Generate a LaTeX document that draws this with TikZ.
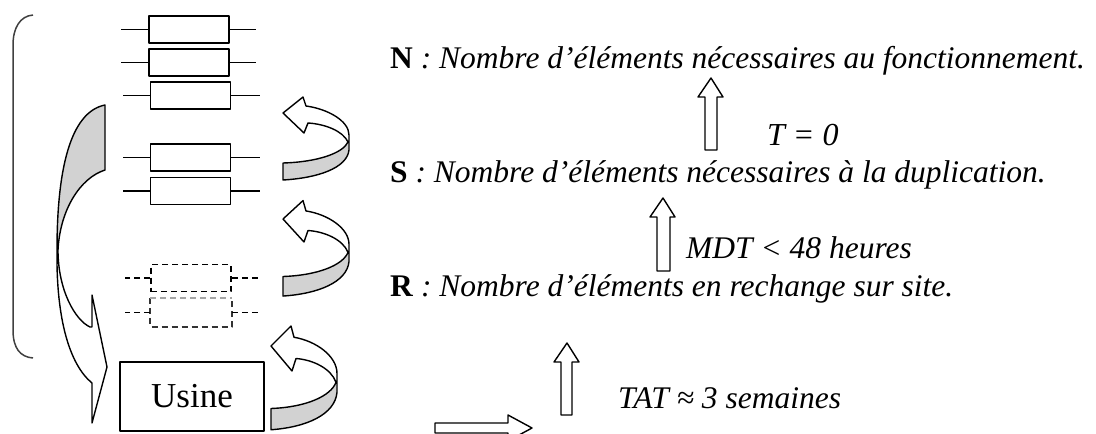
\documentclass[tikz,border=0pt]{standalone}
\usepackage{fontspec}
\setmainfont{Liberation Serif}
\begin{document}
\begin{tikzpicture}[x=1pt,y=-1pt,line join=round]
\tikzset{
 res/.style={draw,line width=1.6pt,minimum width=80pt,minimum height=27pt,inner sep=0pt},
 lead/.style={line width=1.5pt},
 dlead/.style={line width=1.5pt,dash pattern=on 6pt off 4pt},
 blk/.style={draw,line width=1.4pt,fill=white},
 rib/.style={draw,line width=1.4pt},
 lbl/.style={anchor=base west,inner sep=0pt,font=\fontsize{31.5}{36}\selectfont},
}
\newcommand{\uarrowpath}{%
  \fill[gray!35] (0,50) .. controls (35,49) and (60,40) .. (65,29) -- (66,37) .. controls (64,55) and (35,65) .. (0,67) -- cycle;
  \draw[rib] (0,0) -- (20,-16) -- (23,-7) .. controls (45,-4) and (66,8) .. (66,22) -- (66,37)
    .. controls (64,55) and (35,65) .. (0,67) -- (0,50)
    .. controls (35,49) and (60,40) .. (65,29)
    .. controls (60,18) and (42,11) .. (25,10) -- (21,20) -- cycle;}
\useasboundingbox (0,0) rectangle (1096,434);
\begin{scope}
\clip (0,0) rectangle (1096,434);
% bracket
\draw[line width=1.5pt,black!75] (33,15) .. controls (20,16) and (13,28) .. (13,45) -- (13,330) .. controls (13,348) and (20,357) .. (33,358);
% resistors
\node[res] (r1) at (189,29.5) {};
\node[res] (r2) at (189,62.5) {};
\node[res] (r3) at (190.5,95.5) {};
\node[res] (r4) at (190.5,157.5) {};
\node[res] (r5) at (190.5,191) {};
\draw[lead] (r1.west) -- ++(-27,0) (r1.east) -- ++(26,0);
\draw[lead] (r2.west) -- ++(-27,0) (r2.east) -- ++(26,0);
\foreach \r in {r3,r4,r5}{\draw[lead] (\r.west) -- ++(-27,0) (\r.east) -- ++(29,0);}
\node[res,dash pattern=on 6pt off 4pt] (d1) at (191,278) {};
\node[res,draw=none] (d2) at (191,312.5) {};
\draw[dlead,black!80] (d2.north west) -- (d2.south west) -- (d2.south east) -- (d2.north east);
\draw[dlead,gray!70] (d2.north west) -- (d2.north east);
\foreach \r in {d1,d2}{\draw[dlead] (\r.west) -- ++(-25,0) (\r.east) -- ++(28,0);}
% usine
\node[draw,line width=1.5pt,minimum width=144pt,minimum height=69pt,inner sep=0pt,font=\fontsize{35}{40}\selectfont] (U) at (192,396.5) {Usine};
% big curved arrow
\fill[gray!35] (105,105) .. controls (70,112) and (57,170) .. (57,250) .. controls (60,210) and (80,178) .. (105,170) -- cycle;
\draw[rib] (105,105) -- (105,170) .. controls (80,178) and (60,210) .. (58,250)
  .. controls (58,290) and (75,320) .. (90,327) -- (92,327) -- (92,295) -- (107,367) -- (92,423) -- (92,383)
  .. controls (70,365) and (56,320) .. (57,250) .. controls (57,170) and (70,112) .. (105,105) -- cycle;
% U-turn arrows
\begin{scope}[shift={(283,113)}]\uarrowpath\end{scope}
\begin{scope}[shift={(283,219)},yscale=1.15]\uarrowpath\end{scope}
\begin{scope}[shift={(271,346)},yscale=1.25]\uarrowpath\end{scope}
% block arrows
\draw[blk] (705,150) -- (705,97) -- (698,97) -- (711,78) -- (723,97) -- (717,97) -- (717,150) -- cycle;
\draw[blk] (657,271) -- (657,217) -- (650,217) -- (663,198) -- (675,217) -- (670,217) -- (670,271) -- cycle;
\draw[blk] (561,415) -- (561,362) -- (554,362) -- (567,343) -- (579,362) -- (572,362) -- (572,415) -- cycle;
\draw[blk] (435,423) -- (508,423) -- (508,415) -- (532,428) -- (508,441) -- (508,433) -- (435,433) -- cycle;
\end{scope}
% texts
\node[lbl] (N) at (390,68) {\textbf{N}\textit{ : Nombre d’éléments nécessaires au fonctionnement.}};
\node[lbl] (S) at (390,182) {\textbf{S}\textit{ : Nombre d’éléments nécessaires à la duplication.}};
\node[lbl] (R) at (390,296) {\textbf{R}\textit{ : Nombre d’éléments en rechange sur site.}};
\node[lbl,font=\fontsize{32}{36}\selectfont\itshape] (T0) at (767,145) {T = 0};
\node[lbl,font=\fontsize{31.5}{36}\selectfont\itshape] (MDT) at (686,258) {MDT \textless{} 48 heures};
\node[lbl,font=\fontsize{31.5}{36}\selectfont\itshape] (TAT) at (618,408) {TAT ≈ 3 semaines};
\end{tikzpicture}
\end{document}
